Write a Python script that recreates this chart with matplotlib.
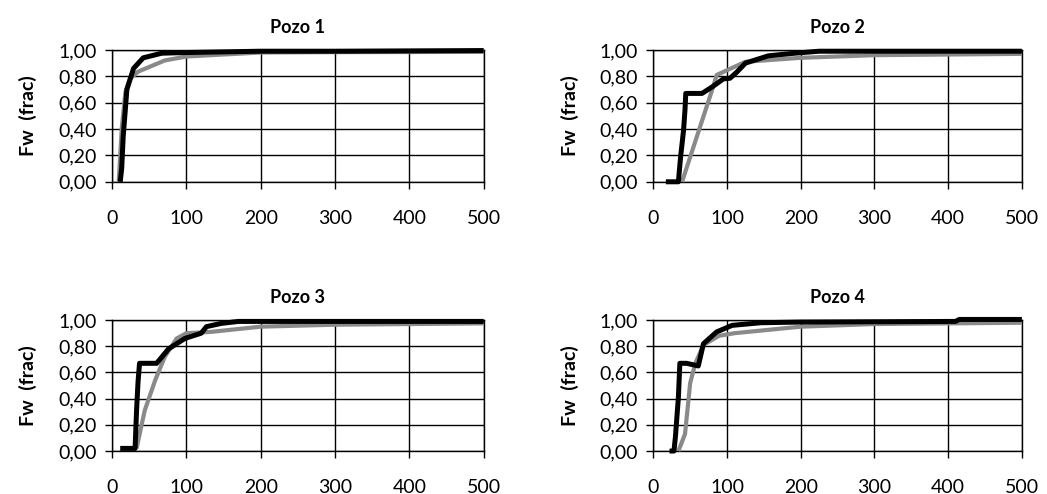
import matplotlib.pyplot as plt
from matplotlib.ticker import FuncFormatter

plt.rcParams['font.family'] = ['Lato', 'DejaVu Sans']

# Pozo 1
p1_real_x = [11, 13, 15, 20, 29, 42, 67, 100, 200, 300, 500]
p1_real_y = [0.00, 0.10, 0.34, 0.70, 0.86, 0.94, 0.975, 0.98, 0.99, 0.99, 0.995]
p1_sim_x = [9, 13, 18, 24, 35, 71, 100, 200, 300, 500]
p1_sim_y = [0.00, 0.40, 0.68, 0.78, 0.835, 0.92, 0.95, 0.98, 0.983, 0.985]

# Pozo 2
p2_real_x = [17, 34, 37, 41, 43, 44, 66, 80, 95, 104, 113, 125, 156, 192, 225, 500]
p2_real_y = [0.00, 0.00, 0.19, 0.39, 0.55, 0.67, 0.67, 0.72, 0.78, 0.785, 0.83, 0.90, 0.955, 0.975, 0.99, 0.99]
p2_sim_x = [39, 80, 86, 125, 200, 300, 500]
p2_sim_y = [0.00, 0.70, 0.81, 0.91, 0.94, 0.96, 0.97]

# Pozo 3
p3_real_x = [11, 31, 33, 35, 37, 60, 76, 98, 120, 127, 147, 170, 500]
p3_real_y = [0.02, 0.02, 0.31, 0.53, 0.67, 0.67, 0.78, 0.86, 0.90, 0.95, 0.975, 0.99, 0.99]
p3_sim_x = [33, 44, 58, 71, 87, 100, 133, 200, 300, 500]
p3_sim_y = [0.02, 0.31, 0.54, 0.72, 0.86, 0.90, 0.91, 0.95, 0.965, 0.975]

# Pozo 4
p4_real_x = [22, 28, 30, 32, 34, 36, 45, 61, 68, 86, 107, 146, 200, 410, 415, 500]
p4_real_y = [0.00, 0.00, 0.11, 0.26, 0.41, 0.67, 0.67, 0.65, 0.82, 0.91, 0.96, 0.98, 0.985, 0.99, 1.005, 1.005]
p4_sim_x = [34, 43, 50, 57, 68, 89, 110, 200, 300, 500]
p4_sim_y = [0.00, 0.13, 0.52, 0.67, 0.81, 0.88, 0.90, 0.95, 0.97, 0.98]

titles = ['Pozo 1', 'Pozo 2', 'Pozo 3', 'Pozo 4']
real_x = [p1_real_x, p2_real_x, p3_real_x, p4_real_x]
real_y = [p1_real_y, p2_real_y, p3_real_y, p4_real_y]
sim_x = [p1_sim_x, p2_sim_x, p3_sim_x, p4_sim_x]
sim_y = [p1_sim_y, p2_sim_y, p3_sim_y, p4_sim_y]

x_ticks = [0, 100, 200, 300, 400, 500]
y_ticks = [0.0, 0.2, 0.4, 0.6, 0.8, 1.0]

fig = plt.figure(figsize=(10.47, 4.94), dpi=100)

# posiciones de cada grafico [left, bottom, width, height]
boxes = [
    [0.107, 0.632, 0.355, 0.267],
    [0.624, 0.632, 0.352, 0.267],
    [0.107, 0.087, 0.355, 0.265],
    [0.624, 0.087, 0.352, 0.265],
]

coma = FuncFormatter(lambda v, pos: f'{v:.2f}'.replace('.', ','))

for i in range(4):
    ax = fig.add_axes(boxes[i])
    ax.plot(sim_x[i], sim_y[i], color='#8a8a8a', lw=3.0, solid_capstyle='butt',
            clip_on=False, zorder=3)
    ax.plot(real_x[i], real_y[i], color='black', lw=3.6, solid_capstyle='butt',
            clip_on=False, zorder=4)
    ax.set_xlim(0, 500)
    ax.set_ylim(0, 1)
    ax.set_xticks(x_ticks)
    ax.set_yticks(y_ticks)
    ax.yaxis.set_major_formatter(coma)
    ax.grid(True, color='black', lw=1.0)
    ax.set_axisbelow(True)
    for s in ax.spines.values():
        s.set_color('black')
        s.set_linewidth(1.0)
    ax.tick_params(axis='x', direction='out', length=5, width=1, pad=15, labelsize=14)
    ax.tick_params(axis='y', direction='out', length=5, width=1, pad=6, labelsize=14)
    ax.set_title(titles[i], fontsize=13, fontweight='bold', pad=12)
    ax.set_ylabel('Fw  (frac)', fontsize=14, fontweight='bold', labelpad=15)

plt.savefig('out.png', dpi=100)
